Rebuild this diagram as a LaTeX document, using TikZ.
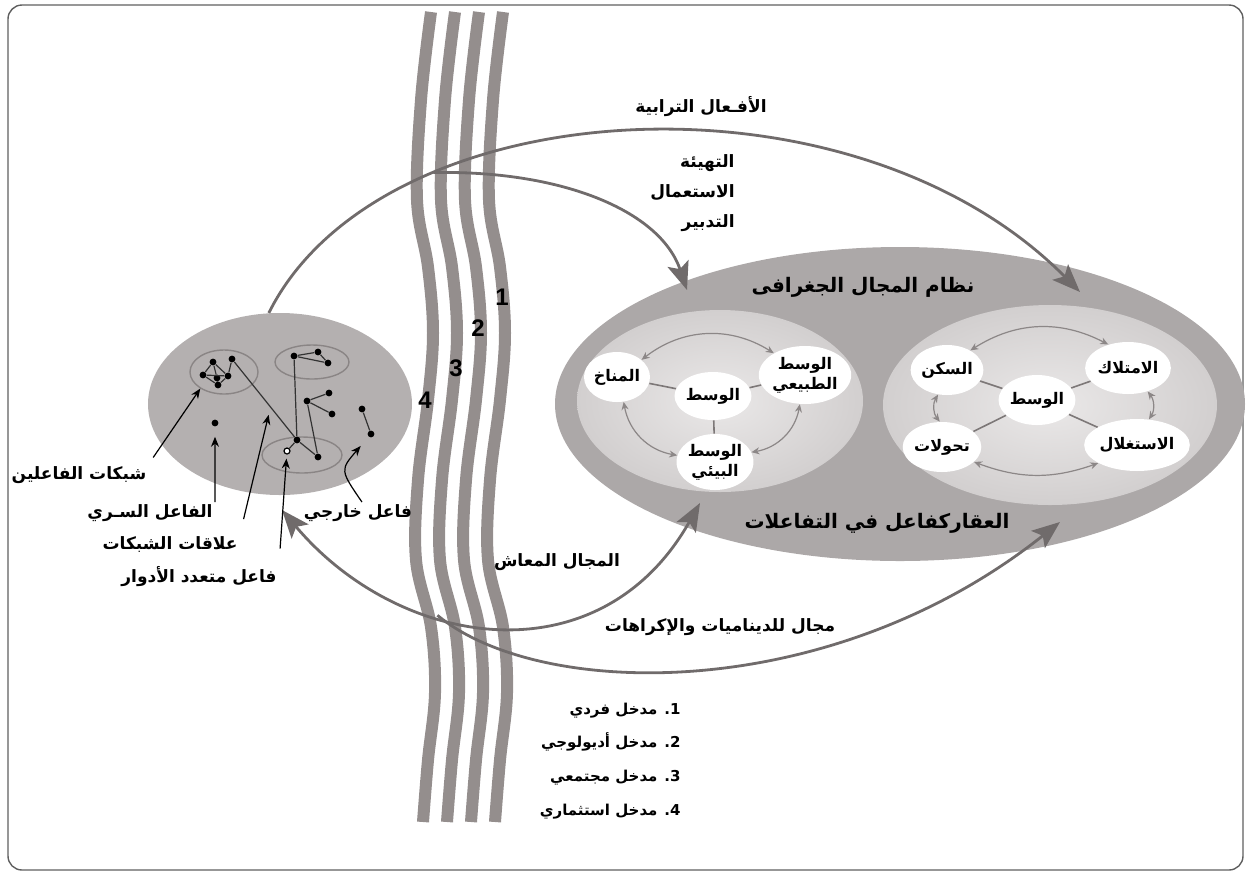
\documentclass[tikz,border=0pt]{standalone}
\usepackage{fontspec}
\usetikzlibrary{arrows.meta,positioning,shapes.geometric}
\newfontfamily\arabicfont[Script=Arabic]{DejaVu Sans}
\newfontfamily\numfont{Liberation Sans}
\TeXXeTstate=1
\newcommand\artxt[1]{{\arabicfont\beginR#1\endR}}
\definecolor{framegray}{RGB}{95,95,95}
\definecolor{bandgray}{RGB}{148,142,141}
\definecolor{actorfill}{RGB}{180,176,176}
\definecolor{geofill}{RGB}{172,168,168}
\definecolor{innerfill}{RGB}{210,207,207}
\definecolor{innerlight}{RGB}{234,232,232}
\definecolor{flowgray}{RGB}{112,107,107}
\definecolor{tripgray}{RGB}{140,135,135}
\definecolor{spokegray}{RGB}{125,120,120}
\definecolor{ringgray}{RGB}{138,133,133}

\begin{document}
\begin{tikzpicture}[
    x=0.5pt, y=-0.5pt,
    lbl/.style={font=\bfseries\fontsize{8.5}{15}\selectfont, inner sep=1pt},
    headline/.style={font=\bfseries\fontsize{10}{12}\selectfont, inner sep=1pt},
    num/.style={font=\numfont\bfseries\fontsize{12}{14}\selectfont, inner sep=0pt},
    listitem/.style={font=\bfseries\fontsize{7.5}{9}\selectfont, inner sep=1pt, text height=9pt, text depth=3pt},
    blob/.style={ellipse, inner sep=0pt},
    grp/.style={ellipse, draw=ringgray, line width=0.7pt, inner sep=0pt},
    cell/.style={ellipse, fill=white, inner sep=0pt, align=center, font=\bfseries\fontsize{8}{10}\selectfont},
    actor/.style={circle, fill=black, inner sep=0pt, minimum size=3.4pt},
    tie/.style={draw=black!80, line width=0.6pt},
    band/.style={draw=bandgray, line width=6pt},
    flow/.style={draw=flowgray, line width=1.4pt, -{Stealth[length=14pt,width=11pt,inset=3pt]}},
    flowboth/.style={flow, {Stealth[length=14pt,width=11pt,inset=3pt]}-{Stealth[length=14pt,width=11pt,inset=3pt]}},
    roundtrip/.style={draw=tripgray, line width=0.6pt, {Stealth[length=4pt,width=3.5pt]}-{Stealth[length=4pt,width=3.5pt]}},
    spoke/.style={draw=spokegray, line width=0.8pt},
    pointer/.style={draw=black, line width=0.6pt, -{Stealth[length=5pt,width=4pt]}}
  ]
    \useasboundingbox (0,0) rectangle (1249,875);
    \draw[framegray, line width=0.7pt, rounded corners=7pt] (8,5) rectangle (1243,870);

    \foreach \dx in {0,-24,-48,-72}
      \draw[band] plot[smooth, tension=0.6] coordinates {(503+\dx,12) (493+\dx,100) (489+\dx,200) (500+\dx,267) (505+\dx,333) (500+\dx,400) (490+\dx,480) (488+\dx,560) (503+\dx,627) (507+\dx,693) (500+\dx,760) (495+\dx,822)};
    \node[num] (n1) at (502,297) {1};
    \node[num] (n2) at (478,328) {2};
    \node[num] (n3) at (456,368) {3};
    \node[num] (n4) at (425,400) {4};

    \node[blob, fill=actorfill, minimum width=132pt, minimum height=91pt] (actors) at (280,404) {};
    \node[blob, fill=geofill, minimum width=345pt, minimum height=157pt] (geo) at (900,404) {};
    \node[blob, inner color=innerlight, outer color=innerfill, minimum width=143pt, minimum height=91pt] (milieuL) at (720,401) {};
    \node[blob, inner color=innerlight, outer color=innerfill, minimum width=167pt, minimum height=100pt] (milieuR) at (1050,405) {};
    \node[headline] (geoTitle) at (863,287) {\artxt{نظام المجال الجغرافى}};
    \node[headline] (geoFoot) at (877,523) {\artxt{العقاركفاعل في التفاعلات}};

    \node[cell, minimum width=33pt, minimum height=25pt] (climate) at (617,377) {\artxt{المناخ}};
    \node[cell, minimum width=35pt, minimum height=24pt] (coreL) at (713,396) {\artxt{الوسط}};
    \node[cell, minimum width=35pt, minimum height=29pt] (natural) at (805,375) {\artxt{الوسط}\\\artxt{الطبيعي}};
    \node[cell, minimum width=35pt, minimum height=28pt] (ecology) at (715,462) {\artxt{الوسط}\\\artxt{البيئي}};
    \draw[spoke] (coreL) -- (climate) (coreL) -- (natural) (coreL) -- (ecology);
    \draw[roundtrip] (climate.35) to[bend left=35] (natural.145);
    \draw[roundtrip] (climate.-75) to[bend right=35] (ecology.170);
    \draw[roundtrip] (natural.-100) to[bend left=35] (ecology.15);

    \node[cell, minimum width=42pt, minimum height=26pt] (own) at (1128,368) {\artxt{الامتلاك}};
    \node[cell, minimum width=36pt, minimum height=25pt] (dwell) at (947,370) {\artxt{السكن}};
    \node[cell, minimum width=36pt, minimum height=25pt] (coreR) at (1037,400) {\artxt{الوسط}};
    \node[cell, minimum width=36pt, minimum height=25pt] (shift) at (942,447) {\artxt{تحولات}};
    \node[cell, minimum width=42pt, minimum height=26pt] (exploit) at (1137,445) {\artxt{الاستغلال}};
    \draw[spoke] (coreR) -- (own) (coreR) -- (dwell) (coreR) -- (shift) (coreR) -- (exploit);
    \draw[roundtrip] (dwell.40) to[bend left=30] (own.130);
    \draw[roundtrip] (dwell.-110) to[bend right=35] (shift.95);
    \draw[roundtrip] (own.-50) to[bend left=35] (exploit.65);
    \draw[roundtrip] (shift.-25) to[bend right=20] (exploit.-155);

    \node[grp, minimum width=34pt, minimum height=22pt] (grpA) at (224,372) {};
    \node[grp, minimum width=37pt, minimum height=17pt] (grpB) at (312,362) {};
    \node[grp, minimum width=40pt, minimum height=18pt] (grpC) at (302,455) {};
    \node[actor] (a1) at (213,362) {};
    \node[actor] (a2) at (203,375) {};
    \node[actor] (a3) at (217,378) {};
    \node[actor] (a4) at (228,376) {};
    \node[actor] (a5) at (218,385) {};
    \node[actor] (a6) at (232,359) {};
    \node[actor] (b1) at (294,356) {};
    \node[actor] (b2) at (318,352) {};
    \node[actor] (b3) at (328,363) {};
    \node[actor] (c1) at (307,401) {};
    \node[actor] (c2) at (329,393) {};
    \node[actor] (c3) at (332,414) {};
    \node[actor] (m1) at (297,440) {};
    \node[actor, fill=white, draw=black, line width=0.6pt, minimum size=3pt] (m2) at (287,451) {};
    \node[actor] (m3) at (318,457) {};
    \node[actor] (lone) at (215,423) {};
    \node[actor] (e1) at (362,409) {};
    \node[actor] (e2) at (371,434) {};
    \draw[tie] (a1) -- (a2) (a1) -- (a3) (a1) -- (a4) (a2) -- (a4) (a2) -- (a5) (a3) -- (a5) (a4) -- (a5) (a4) -- (a6)
      (a6) -- (m1) (b1) -- (b2) (b2) -- (b3) (b1) -- (b3) (b1) -- (m1) (c1) -- (c2) (c1) -- (c3) (c1) -- (m3)
      (m1) -- (m2) (m1) -- (m3) (e1) -- (e2);
    \path (a6) -- (m1) coordinate[pos=0.6] (midTie);

    \coordinate (tipGeo) at (1080,292);
    \coordinate (tipMilieu) at (687,290);
    \coordinate (tipActors) at (282,510);
    \coordinate (tipBelow) at (700,503);
    \coordinate (tipFoot) at (1060,522);
    \draw[flow] (actors.97) .. controls (380,90) and (850,60) .. (tipGeo) coordinate[pos=0.28] (forkTop);
    \draw[flow] (forkTop) .. controls (560,170) and (660,210) .. (tipMilieu);
    \draw[flowboth] (tipActors) .. controls (400,650) and (600,680) .. (tipBelow) coordinate[pos=0.37] (forkLow);
    \draw[flow] (forkLow) .. controls (540,700) and (830,705) .. (tipFoot);

    \node[lbl] (bondsLbl) at (701,107) {\artxt{الأفـعال الترابية}};
    \node[lbl, align=right, anchor=east] (actsLbl) at (737,193) {\artxt{التهيئة}\\\artxt{الاستعمال}\\\artxt{التدبير}};
    \node[lbl] (livedLbl) at (557,562) {\artxt{المجال المعاش}};
    \node[lbl] (dynLbl) at (720,627) {\artxt{مجال للديناميات والإكراهات}};

    \node[lbl] (netLbl) at (79,475) {\artxt{شبكات الفاعلين}};
    \node[lbl] (secretLbl) at (150,513) {\artxt{الفاعل السـري}};
    \node[lbl] (linkLbl) at (170,545) {\artxt{علاقات الشبكات}};
    \node[lbl] (multiLbl) at (199,577) {\artxt{فاعل متعدد الأدوار}};
    \node[lbl] (outLbl) at (358,513) {\artxt{فاعل خارجي}};
    \draw[pointer, shorten <=4pt] (netLbl.north east) -- (grpA.215);
    \draw[pointer, shorten >=5pt] (secretLbl.north east) -- (lone);
    \draw[pointer, shorten <=8pt, shorten >=4pt] (linkLbl.north east) -- (midTie);
    \draw[pointer, shorten <=8pt, shorten >=2pt] (multiLbl.north east) -- (m2);
    \draw[pointer, shorten >=6pt] (outLbl.70) .. controls (340,470) .. (e2);

    \node[listitem, anchor=east] (way1) at (683,708) {\artxt{1. مدخل فردي}};
    \node[listitem, below=2.5pt of way1.south east, anchor=north east] (way2) {\artxt{2. مدخل أديولوجي}};
    \node[listitem, below=2.5pt of way2.south east, anchor=north east] (way3) {\artxt{3. مدخل مجتمعي}};
    \node[listitem, below=2.5pt of way3.south east, anchor=north east] (way4) {\artxt{4. مدخل استثماري}};
  \end{tikzpicture}
\end{document}
